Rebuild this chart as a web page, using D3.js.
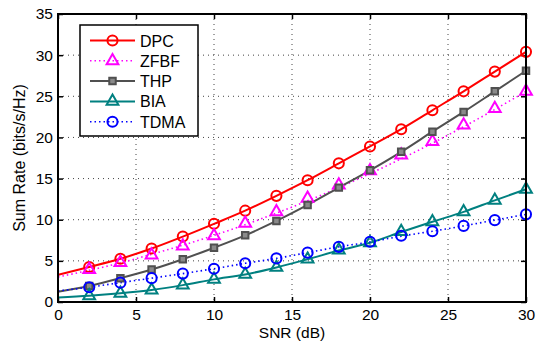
<!DOCTYPE html>
<html>
<head>
<meta charset="utf-8">
<script src="https://cdn.jsdelivr.net/npm/d3@7"></script>
<style>
  body { margin: 0; background: #fff; }
  svg { display: block; font-family: "Liberation Sans", Arial, sans-serif; }
</style>
</head>
<body>
<svg id="chart" width="540" height="343"></svg>
<script>
// SNR grid for the curves and for the markers
const snrLine = [0, 2, 4, 6, 8, 10, 12, 14, 16, 18, 20, 22, 24, 26, 28, 30];
const snrMark = [2, 4, 6, 8, 10, 12, 14, 16, 18, 20, 22, 24, 26, 28, 30];

// curve values (bits/s/Hz)
const dpcLine  = [3.3, 4.25, 5.25, 6.5, 7.95, 9.5, 11.1, 12.9, 14.8, 16.85, 18.9, 21.0, 23.3, 25.6, 28.0, 30.4];
const zfbfLine = [3.05, 3.85, 4.75, 5.8, 6.9, 8.1, 9.4, 10.8, 12.3, 13.9, 15.6, 17.4, 19.3, 21.3, 23.4, 25.6];
const thpLine  = [1.25, 1.95, 2.9, 3.95, 5.2, 6.6, 8.1, 9.85, 11.8, 13.9, 16.0, 18.25, 20.7, 23.1, 25.6, 28.1];
const biaLine  = [0.55, 0.75, 1.05, 1.45, 2.05, 2.75, 3.35, 4.2, 5.2, 6.25, 7.2, 8.5, 9.75, 10.95, 12.35, 13.7];
const tdmaLine = [1.35, 1.8, 2.35, 2.9, 3.45, 4.05, 4.7, 5.3, 6.0, 6.7, 7.3, 8.0, 8.6, 9.25, 9.95, 10.65];

// marker values
const dpcMark  = [4.25, 5.25, 6.5, 7.95, 9.5, 11.1, 12.9, 14.8, 16.85, 18.9, 21.0, 23.3, 25.6, 28.0, 30.4];
const zfbfMark = [3.95, 4.8, 5.7, 6.8, 8.05, 9.55, 10.95, 12.6, 14.2, 15.95, 17.85, 19.5, 21.5, 23.5, 25.6];
const thpMark  = [1.95, 2.9, 3.95, 5.2, 6.6, 8.1, 9.85, 11.8, 13.9, 16.0, 18.25, 20.7, 23.1, 25.6, 28.1];
const biaMark  = [0.75, 1.05, 1.45, 2.05, 2.75, 3.35, 4.2, 5.2, 6.3, 7.2, 8.55, 9.75, 10.95, 12.35, 13.7];
const tdmaMark = [1.8, 2.35, 2.9, 3.45, 4.05, 4.7, 5.3, 6.0, 6.7, 7.33, 8.05, 8.6, 9.25, 9.95, 10.65];

const xTicks = [0, 5, 10, 15, 20, 25, 30];
const yTicks = [0, 5, 10, 15, 20, 25, 30, 35];

const series = [
  { name: 'DPC',  line: dpcLine,  mark: dpcMark,  color: '#ff0000', dash: null,  shape: 'circle' },
  { name: 'ZFBF', line: zfbfLine, mark: zfbfMark, color: '#ff00ff', dash: '1.5,3', shape: 'triangle' },
  { name: 'THP',  line: thpLine,  mark: thpMark,  color: '#505050', dash: null,  shape: 'square' },
  { name: 'BIA',  line: biaLine,  mark: biaMark,  color: '#008080', dash: null,  shape: 'triangle' },
  { name: 'TDMA', line: tdmaLine, mark: tdmaMark, color: '#0000ff', dash: '1.5,3', shape: 'circle' },
];

const W = 540, H = 343;
const margin = { top: 14, right: 14, bottom: 41, left: 58 };
const iw = W - margin.left - margin.right;
const ih = H - margin.top - margin.bottom;

const svg = d3.select('#chart');
const g = svg.append('g').attr('transform', `translate(${margin.left},${margin.top})`);

const x = d3.scaleLinear().domain([0, 30]).range([0, iw]);
const y = d3.scaleLinear().domain([0, 35]).range([ih, 0]);

// dotted grid
g.append('g')
  .selectAll('line')
  .data(xTicks.slice(1, -1))
  .join('line')
  .attr('x1', (d) => x(d)).attr('x2', (d) => x(d))
  .attr('y1', 0).attr('y2', ih)
  .attr('stroke', '#444').attr('stroke-width', 1)
  .attr('stroke-dasharray', '1,4');

g.append('g')
  .selectAll('line')
  .data(yTicks.slice(1, -1))
  .join('line')
  .attr('y1', (d) => y(d)).attr('y2', (d) => y(d))
  .attr('x1', 0).attr('x2', iw)
  .attr('stroke', '#444').attr('stroke-width', 1)
  .attr('stroke-dasharray', '1,4');

// axes with inward ticks on all four sides
const styleAxis = (sel) => {
  sel.select('.domain').remove();
  sel.selectAll('line').attr('stroke', '#000').attr('stroke-width', 1.5);
  sel.selectAll('text').attr('font-size', 15.5).attr('fill', '#000');
};

g.append('g')
  .attr('transform', `translate(0,${ih})`)
  .call(d3.axisBottom(x).tickValues(xTicks).tickSize(-5).tickPadding(7))
  .call(styleAxis);

g.append('g')
  .call(d3.axisTop(x).tickValues(xTicks).tickSize(-5).tickFormat(''))
  .call(styleAxis);

g.append('g')
  .call(d3.axisLeft(y).tickValues(yTicks).tickSize(-5).tickPadding(5))
  .call(styleAxis);

g.append('g')
  .attr('transform', `translate(${iw},0)`)
  .call(d3.axisRight(y).tickValues(yTicks).tickSize(-5).tickFormat(''))
  .call(styleAxis);

// curves
const lineGen = d3.line()
  .x((d) => x(d[0]))
  .y((d) => y(d[1]))
  .curve(d3.curveMonotoneX);

const symbolFor = (shape) => {
  if (shape === 'circle') return d3.symbol(d3.symbolCircle, 80);
  if (shape === 'triangle') return d3.symbol(d3.symbolTriangle, 60);
  return d3.symbol(d3.symbolSquare, 42);
};

series.forEach((s) => {
  g.append('path')
    .datum(snrLine.map((v, i) => [v, s.line[i]]))
    .attr('d', lineGen)
    .attr('fill', 'none')
    .attr('stroke', s.color)
    .attr('stroke-width', s.dash ? 1.6 : 2)
    .attr('stroke-dasharray', s.dash);
});

series.forEach((s) => {
  g.append('g')
    .selectAll('path')
    .data(snrMark.map((v, i) => [v, s.mark[i]]))
    .join('path')
    .attr('transform', (d) => `translate(${x(d[0])},${y(d[1])})`)
    .attr('d', symbolFor(s.shape)())
    .attr('fill', s.shape === 'square' ? '#8a8a8a' : 'none')
    .attr('stroke', s.color)
    .attr('stroke-width', 2);
});

// frame
g.append('rect')
  .attr('width', iw).attr('height', ih)
  .attr('fill', 'none').attr('stroke', '#000').attr('stroke-width', 2);

// legend
const legend = svg.append('g').attr('transform', 'translate(80,25)');
legend.append('rect')
  .attr('width', 118).attr('height', 111)
  .attr('fill', '#fff').attr('stroke', '#000').attr('stroke-width', 1.5);

const rows = legend.selectAll('g.row')
  .data(series)
  .join('g')
  .attr('class', 'row')
  .attr('transform', (d, i) => `translate(0,${15.5 + i * 20.3})`);

rows.append('line')
  .attr('x1', 10).attr('x2', 55)
  .attr('stroke', (d) => d.color)
  .attr('stroke-width', (d) => (d.dash ? 1.6 : 2))
  .attr('stroke-dasharray', (d) => d.dash);

rows.append('path')
  .attr('transform', 'translate(32.5,0)')
  .attr('d', (d) => symbolFor(d.shape)())
  .attr('fill', (d) => (d.shape === 'square' ? '#8a8a8a' : 'none'))
  .attr('stroke', (d) => d.color)
  .attr('stroke-width', 2);

rows.append('text')
  .attr('x', 60).attr('y', 6)
  .attr('font-size', 16)
  .text((d) => d.name);

// axis titles
svg.append('text')
  .attr('x', margin.left + iw / 2).attr('y', 337.5)
  .attr('text-anchor', 'middle').attr('font-size', 15.5)
  .text('SNR (dB)');

svg.append('text')
  .attr('transform', `translate(25,${margin.top + ih / 2}) rotate(-90)`)
  .attr('text-anchor', 'middle').attr('font-size', 16)
  .text('Sum Rate (bits/s/Hz)');
</script>
</body>
</html>
